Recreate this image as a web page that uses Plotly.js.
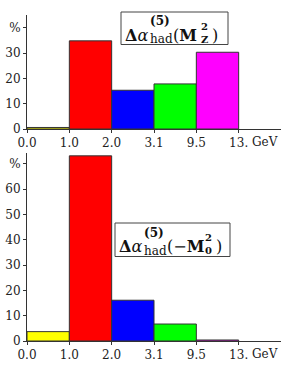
<!DOCTYPE html>
<html>
<head>
<meta charset="utf-8">
<script src="https://cdn.plot.ly/plotly-3.0.1.min.js"></script>
<style>html,body{margin:0;padding:0;background:#fff;}#chart{width:288px;height:365px;}</style>
</head>
<body>
<div id="chart"></div>
<script>
// ---- data ----
const binEdgeLabels = ["0.0", "1.0", "2.0", "3.1", "9.5", "13."];
const shareMZ = [0.6, 34.8, 15.3, 17.8, 30.3];   // % contribution to Δα(MZ²)
const shareM0 = [3.7, 73.1, 16.1, 6.7, 0.4];     // % contribution to Δα(-M0²)
const topTickVals = [0, 10, 20, 30, 40];
const topTickText = ["0", "10", "20", "30", "%"];
const botTickVals = [0, 10, 20, 30, 40, 50, 60, 70];
const botTickText = ["0", "10", "20", "30", "40", "50", "60", "%"];

// ---- style ----
const barColors = ["#ffff00", "#ff0000", "#0000ff", "#00ff00", "#ff00ff"];
const FONT = "DejaVu Serif";
const ink = "#222";

const W = 288, H = 365, L = 27, R = 7, T = 10, B = 24;
const pw = W - L - R, ph = H - T - B;
const px = x => (x - L) / pw;
const py = y => (H - B - y) / ph;

const centers = shareMZ.map((_, i) => i + 0.5);

const traces = [
  {type: "bar", x: centers, y: shareMZ, width: 1, xaxis: "x", yaxis: "y",
   marker: {color: barColors, line: {color: "#333", width: 1}}, hoverinfo: "none"},
  {type: "bar", x: centers, y: shareM0, width: 1, xaxis: "x2", yaxis: "y2",
   marker: {color: barColors, line: {color: "#333", width: 1}}, hoverinfo: "none"}
];

const xCommon = {
  range: [0, 6], tickmode: "array", tickvals: binEdgeLabels.map((_, i) => i),
  ticktext: binEdgeLabels, ticks: "outside", ticklen: 3, tickcolor: "#333",
  showline: true, linecolor: "#333", linewidth: 1, showgrid: false, zeroline: false,
  tickfont: {family: FONT, size: 12, color: ink}, fixedrange: true
};
const yCommon = {
  ticks: "outside", ticklen: 3, tickcolor: "#333", showline: true, linecolor: "#333",
  linewidth: 1, showgrid: false, zeroline: false, tickmode: "array",
  tickfont: {family: FONT, size: 12, color: ink}, fixedrange: true
};

const topDom = [py(129), py(15)];
const botDom = [0, py(153)];

function piece(text, x, y, size) {
  return {text: text, x: px(x), y: py(y), xref: "paper", yref: "paper",
    xanchor: "left", yanchor: "middle", showarrow: false, borderpad: 0, align: "left",
    font: {family: FONT, size: size, color: "#111"}};
}

const annotations = [
  // top label box
  piece("<b>Δ</b><i>α</i>", 124, 35, 16),
  piece("<b>(5)</b>", 149, 21.5, 12),
  piece("had", 149, 39.5, 12),
  piece("(<b>M</b>", 172, 35, 16),
  piece("<b>2</b><br><b>Z</b>", 200, 32.5, 10),
  piece(")", 211, 35, 16),
  // bottom label box
  piece("<b>Δ</b><i>α</i>", 118, 246, 16),
  piece("<b>(5)</b>", 143, 232.5, 12),
  piece("had", 143, 250.5, 12),
  piece("(−<b>M</b>", 166, 246, 16),
  piece("<b>2</b><br><b>0</b>", 204, 243.5, 10),
  piece(")", 215, 246, 16),
  // GeV unit labels
  {text: "GeV", x: px(251), y: py(141.5), xref: "paper", yref: "paper", xanchor: "left",
   yanchor: "middle", showarrow: false, borderpad: 0, font: {family: FONT, size: 12, color: ink}},
  {text: "GeV", x: px(251), y: py(353.5), xref: "paper", yref: "paper", xanchor: "left",
   yanchor: "middle", showarrow: false, borderpad: 0, font: {family: FONT, size: 12, color: ink}}
];

const shapes = [
  {type: "rect", xref: "paper", yref: "paper", x0: px(121), x1: px(228), y0: py(44.5), y1: py(12),
   line: {color: "#444", width: 1}},
  {type: "rect", xref: "paper", yref: "paper", x0: px(115), x1: px(230), y0: py(256.5), y1: py(223),
   line: {color: "#444", width: 1}}
];

const layout = {
  width: W, height: H, margin: {l: L, r: R, t: T, b: B, pad: 0},
  paper_bgcolor: "#fff", plot_bgcolor: "rgba(0,0,0,0)", showlegend: false, bargap: 0,
  xaxis: Object.assign({}, xCommon, {anchor: "y"}),
  yaxis: Object.assign({}, yCommon, {domain: topDom, range: [0, (129 - 15) / 2.533],
    tickvals: topTickVals, ticktext: topTickText, anchor: "x"}),
  xaxis2: Object.assign({}, xCommon, {anchor: "y2"}),
  yaxis2: Object.assign({}, yCommon, {domain: botDom, range: [0, (341 - 153) / 2.533],
    tickvals: botTickVals, ticktext: botTickText, anchor: "x2"}),
  annotations: annotations, shapes: shapes
};

Plotly.newPlot("chart", traces, layout, {staticPlot: true, displayModeBar: false});
</script>
</body>
</html>
